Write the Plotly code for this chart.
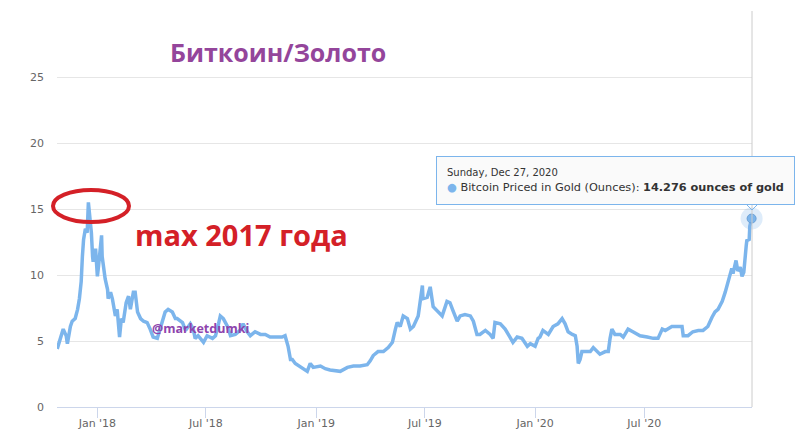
import plotly.graph_objects as go

dates = [
    "2017-10-26", "2017-11-05", "2017-11-10", "2017-11-12", "2017-11-17", "2017-11-20",
    "2017-11-25", "2017-11-29", "2017-12-02", "2017-12-05", "2017-12-07", "2017-12-09",
    "2017-12-12", "2017-12-15", "2017-12-17", "2017-12-19", "2017-12-22", "2017-12-24",
    "2017-12-25", "2017-12-29", "2018-01-01", "2018-01-03", "2018-01-08", "2018-01-09",
    "2018-01-14", "2018-01-18", "2018-01-19", "2018-01-23", "2018-01-26", "2018-01-31",
    "2018-02-03", "2018-02-07", "2018-02-10", "2018-02-13", "2018-02-18", "2018-02-22",
    "2018-02-25", "2018-03-02", "2018-03-05", "2018-03-09", "2018-03-14", "2018-03-19",
    "2018-03-25", "2018-03-30", "2018-04-04", "2018-04-11", "2018-04-16", "2018-04-24",
    "2018-04-29", "2018-05-06", "2018-05-11", "2018-05-14", "2018-05-23", "2018-05-28",
    "2018-06-05", "2018-06-10", "2018-06-13", "2018-06-18", "2018-06-27", "2018-07-03",
    "2018-07-12", "2018-07-17", "2018-07-22", "2018-07-25", "2018-07-30", "2018-08-06",
    "2018-08-11", "2018-08-19", "2018-08-27", "2018-09-01", "2018-09-08", "2018-09-13",
    "2018-09-21", "2018-09-30", "2018-10-08", "2018-10-16", "2018-10-28", "2018-11-05",
    "2018-11-10", "2018-11-15", "2018-11-19", "2018-11-22", "2018-11-27", "2018-12-09",
    "2018-12-17", "2018-12-22", "2018-12-27", "2019-01-08", "2019-01-16", "2019-01-24",
    "2019-02-05", "2019-02-10", "2019-02-22", "2019-03-04", "2019-03-15", "2019-03-27",
    "2019-04-01", "2019-04-06", "2019-04-14", "2019-04-23", "2019-05-01", "2019-05-08",
    "2019-05-13", "2019-05-16", "2019-05-21", "2019-05-26", "2019-06-02", "2019-06-07",
    "2019-06-12", "2019-06-20", "2019-06-27", "2019-06-28", "2019-07-05", "2019-07-10",
    "2019-07-15", "2019-07-22", "2019-07-30", "2019-08-07", "2019-08-12", "2019-08-17",
    "2019-08-24", "2019-08-29", "2019-09-06", "2019-09-15", "2019-09-20", "2019-09-26",
    "2019-10-01", "2019-10-10", "2019-10-18", "2019-10-23", "2019-10-26", "2019-11-04",
    "2019-11-12", "2019-11-20", "2019-11-25", "2019-12-02", "2019-12-10", "2019-12-19",
    "2019-12-24", "2020-01-01", "2020-01-06", "2020-01-09", "2020-01-14", "2020-01-23",
    "2020-01-31", "2020-02-08", "2020-02-15", "2020-02-20", "2020-02-25", "2020-03-03",
    "2020-03-08", "2020-03-11", "2020-03-13", "2020-03-16", "2020-03-19", "2020-03-28",
    "2020-04-02", "2020-04-07", "2020-04-13", "2020-04-18", "2020-04-27", "2020-05-02",
    "2020-05-05", "2020-05-08", "2020-05-13", "2020-05-22", "2020-05-27", "2020-06-04",
    "2020-06-12", "2020-06-24", "2020-07-06", "2020-07-16", "2020-07-24", "2020-07-31",
    "2020-08-05", "2020-08-16", "2020-08-25", "2020-09-02", "2020-09-04", "2020-09-12",
    "2020-09-20", "2020-09-29", "2020-10-07", "2020-10-15", "2020-10-22", "2020-10-27",
    "2020-11-01", "2020-11-08", "2020-11-13", "2020-11-18", "2020-11-24", "2020-11-26",
    "2020-12-01", "2020-12-04", "2020-12-08", "2020-12-11", "2020-12-14", "2020-12-18",
    "2020-12-19", "2020-12-23", "2020-12-24", "2020-12-27",
]

ounces = [
    4.4, 5.9, 5.4, 4.8, 6.1, 6.5,
    6.7, 7.4, 8.2, 9.5, 11.4, 12.7,
    13.5, 13.2, 15.5, 14.5, 13.2, 11.4,
    11.0, 12.0, 9.9, 10.7, 13.0, 11.4,
    9.7, 8.9, 8.2, 8.7, 8.2, 6.9,
    7.4, 5.3, 6.7, 6.4, 7.9, 8.4,
    7.4, 8.7, 8.7, 7.2, 6.7, 6.5,
    6.4, 5.9, 5.3, 5.2, 5.9, 7.2,
    7.4, 7.2, 6.7, 6.7, 6.4, 5.8,
    6.3, 5.9, 5.2, 5.4, 4.9, 5.4,
    5.2, 5.4, 6.3, 6.9, 6.7, 6.1,
    5.4, 5.5, 5.8, 6.3, 5.7, 5.4,
    5.7, 5.5, 5.5, 5.3, 5.3, 5.3,
    5.4, 4.6, 3.6, 3.6, 3.3, 2.9,
    2.7, 3.3, 3.0, 3.1, 2.9, 2.8,
    2.7, 2.7, 3.0, 3.1, 3.1, 3.2,
    3.5, 3.9, 4.2, 4.2, 4.5, 4.9,
    5.9, 6.4, 6.1, 6.9, 6.7, 5.9,
    6.1, 6.9, 9.2, 8.2, 8.3, 9.1,
    7.6, 7.3, 6.9, 8.0, 7.9, 7.3,
    6.5, 6.9, 7.0, 6.9, 6.5, 5.5,
    5.5, 5.8, 5.5, 5.2, 6.4, 6.3,
    5.9, 5.3, 4.9, 5.3, 5.2, 4.6,
    4.8, 4.6, 5.2, 5.3, 5.8, 5.5,
    6.1, 6.3, 6.7, 6.3, 5.7, 5.5,
    5.4, 4.6, 3.3, 3.6, 4.2, 4.2,
    4.2, 4.5, 4.2, 4.0, 4.2, 4.2,
    5.2, 5.9, 5.5, 5.5, 5.3, 5.9,
    5.7, 5.4, 5.3, 5.2, 5.2, 5.9,
    5.8, 6.1, 6.1, 6.1, 5.4, 5.4,
    5.7, 5.8, 5.8, 6.1, 6.8, 7.2,
    7.4, 8.0, 8.7, 9.5, 10.5, 10.1,
    11.1, 10.3, 10.6, 9.9, 10.2, 12.2,
    12.6, 12.7, 13.7, 14.276,
]

tick_vals = ["2018-01-01", "2018-07-01", "2019-01-01", "2019-07-01", "2020-01-01", "2020-07-01"]
tick_text = ["Jan '18", "Jul '18", "Jan '19", "Jul '19", "Jan '20", "Jul '20"]
y_ticks = [0, 5, 10, 15, 20, 25, 30]
y_text = ["0", "5", "10", "15", "20", "25", ""]

title_text = "Биткоин/Золото"
note_text = "max 2017 года"
watermark = "@marketdumki"
tip_date = "Sunday, Dec 27, 2020"
tip_series = "Bitcoin Priced in Gold (Ounces)"
tip_value = "14.276 ounces of gold"

W, H = 801, 443
L, R, T, B = 57, 49, 11, 36
pw, ph = W - L - R, H - T - B


def px(x):
    return (x - L) / pw


def py(y):
    return (H - B - y) / ph


fig = go.Figure()
fig.add_trace(go.Scatter(
    x=dates, y=ounces, mode="lines",
    line=dict(color="#7cb5ec", width=3.5), hoverinfo="skip", showlegend=False,
))
# highlighted last point with halo
fig.add_trace(go.Scatter(
    x=[dates[-1]], y=[ounces[-1]], mode="markers",
    marker=dict(size=22, color="rgba(124,181,236,0.25)", line=dict(width=0)),
    hoverinfo="skip", showlegend=False, cliponaxis=False,
))
fig.add_trace(go.Scatter(
    x=[dates[-1]], y=[ounces[-1]], mode="markers",
    marker=dict(size=9, color="#7cb5ec", line=dict(width=1, color="#6a9fd4")),
    hoverinfo="skip", showlegend=False, cliponaxis=False,
))

fig.update_layout(
    width=W, height=H,
    margin=dict(l=L, r=R, t=T, b=B, pad=0),
    paper_bgcolor="white", plot_bgcolor="white",
    font=dict(family="DejaVu Sans", size=11, color="#666666"),
    hovermode=False,
    xaxis=dict(
        type="date",
        range=["2017-10-25 16:00", "2020-12-27 16:00"],
        tickvals=tick_vals, ticktext=tick_text,
        showgrid=False, zeroline=False,
        showline=True, linecolor="#ccd6eb", linewidth=1,
        ticks="outside", ticklen=10, tickcolor="#ccd6eb", tickwidth=1,
        ticklabelstandoff=-4,
        tickfont=dict(size=11, color="#666666"),
    ),
    yaxis=dict(
        range=[0, 30],
        tickvals=y_ticks, ticktext=y_text,
        showgrid=True, gridcolor="#e6e6e6", gridwidth=1,
        zeroline=False, showline=False, ticks="",
        ticklabelstandoff=12,
        tickfont=dict(size=11, color="#666666"),
    ),
)

shapes = [
    # right border line
    dict(type="line", xref="paper", yref="paper", x0=1, x1=1, y0=0, y1=1,
         line=dict(color="#cccccc", width=1)),
    # red hand-drawn ellipse
    dict(type="circle", xref="paper", yref="paper",
         x0=px(53), x1=px(129), y0=py(222), y1=py(190),
         line=dict(color="#d42027", width=4)),
    # tooltip tail
    dict(type="path", xref="paper", yref="paper",
         path=f"M {px(745)} {py(203)} L {px(752)} {py(210)} L {px(759)} {py(203)}",
         line=dict(color="#7cb5ec", width=1)),
]
fig.update_layout(shapes=shapes)

annotations = [
    dict(text=f"<b>{title_text}</b>", xref="paper", yref="paper",
         x=px(278), y=py(52), xanchor="center", yanchor="middle", showarrow=False,
         font=dict(family="Open Sans", size=25, color="#94459b")),
    dict(text=f"<b>{note_text}</b>", xref="paper", yref="paper",
         x=px(133), y=py(234), xanchor="left", yanchor="middle", showarrow=False,
         font=dict(family="Open Sans", size=29, color="#d42027")),
    dict(text=f"<b>{watermark}</b>", xref="paper", yref="paper",
         x=px(150), y=py(328), xanchor="left", yanchor="middle", showarrow=False,
         font=dict(family="Open Sans", size=12.5, color="#8e44ad")),
    dict(text="n Price", xref="paper", yref="paper",
         x=px(765), y=py(185), xanchor="center", yanchor="middle", showarrow=False,
         textangle=90, font=dict(family="DejaVu Sans", size=11, color="#d8d8d8")),
    dict(text=(f"<span style='font-size:10px'>{tip_date}</span><br>"
               f"<span style='color:#7cb5ec'>●</span> {tip_series}: <b>{tip_value}</b>"),
         xref="paper", yref="paper", x=px(436), y=py(156),
         xanchor="left", yanchor="top", align="left", showarrow=False,
         bgcolor="rgba(250,250,250,1)", bordercolor="#7cb5ec", borderwidth=1,
         borderpad=10, font=dict(family="DejaVu Sans", size=11.3, color="#333333")),
]
fig.update_layout(annotations=annotations)

fig.write_html("out.html", config={"displayModeBar": False},
               post_script="document.body.style.margin='0';")
